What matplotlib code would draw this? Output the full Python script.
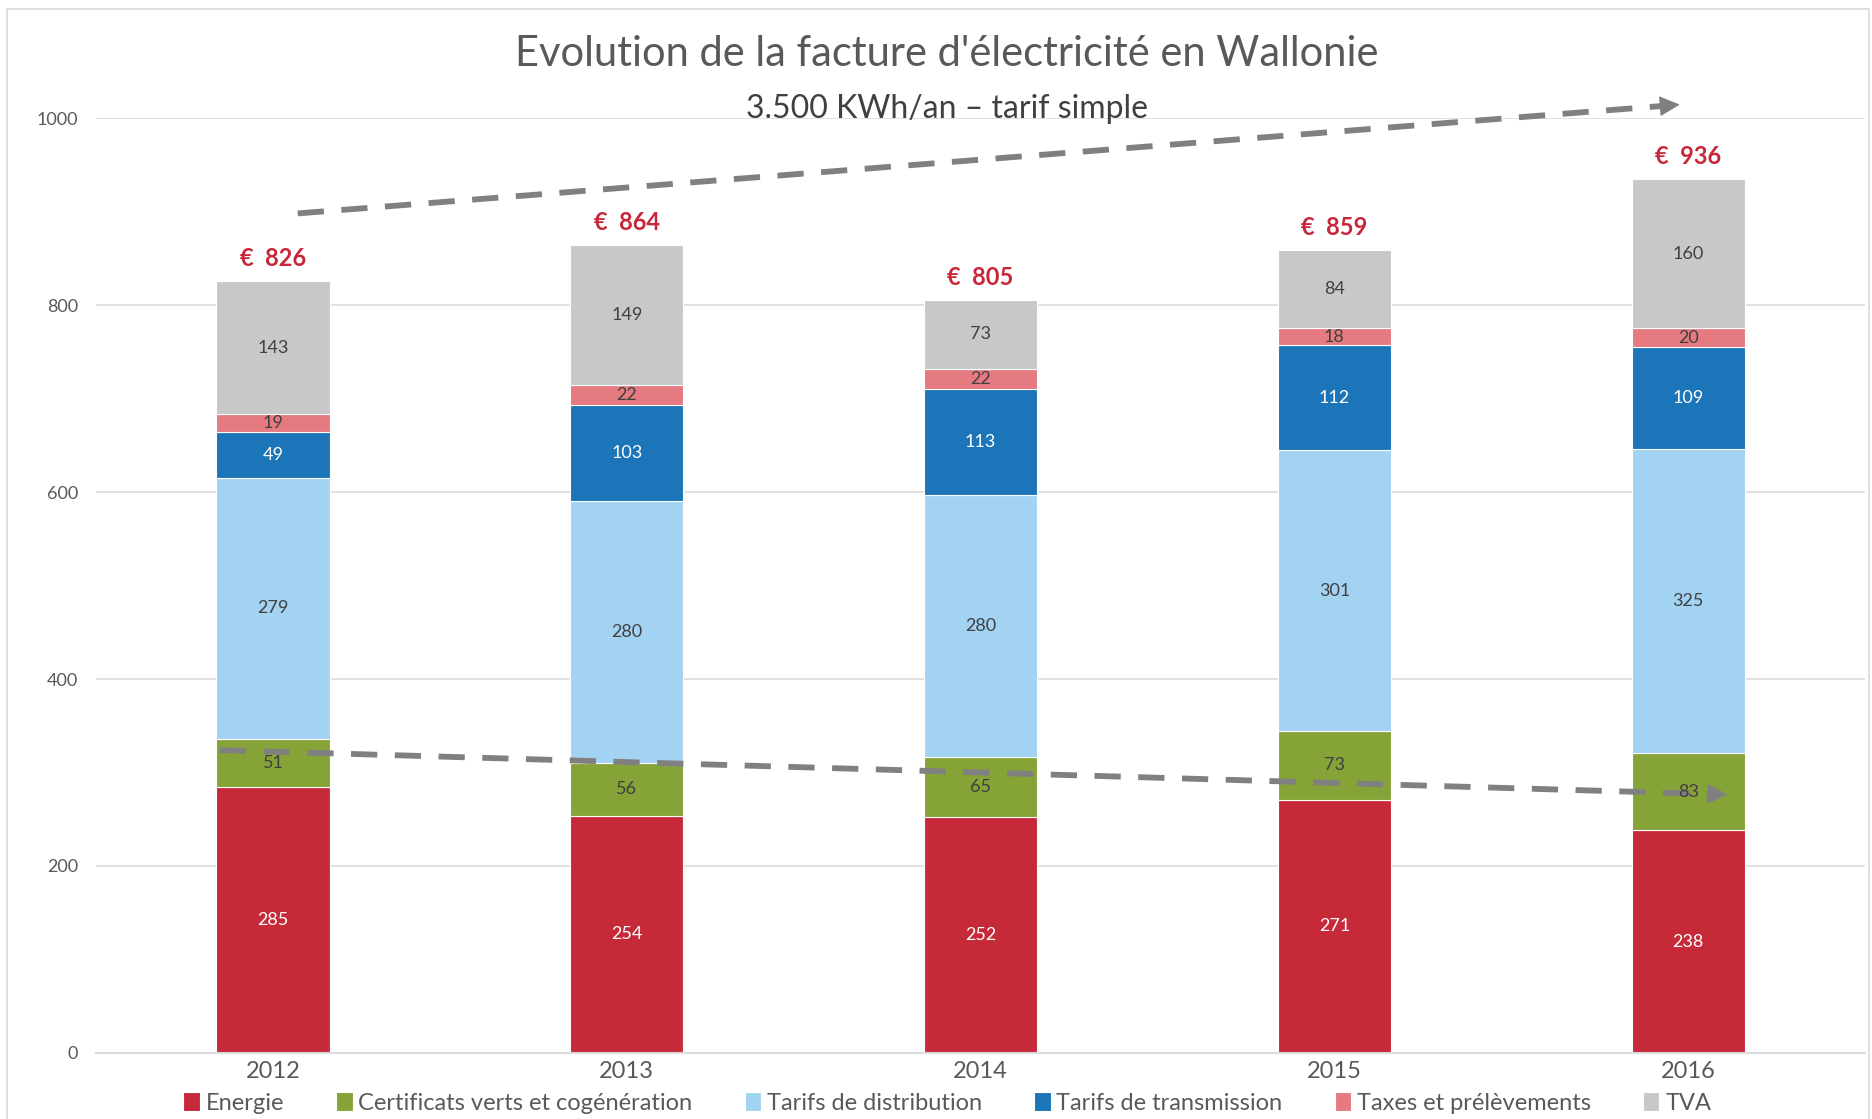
import matplotlib
matplotlib.use("Agg")
import matplotlib.pyplot as plt
import matplotlib.patches as mpatches
import numpy as np

plt.rcParams['font.family'] = ['Lato', 'DejaVu Sans']

# data
years = ['2012', '2013', '2014', '2015', '2016']
series = ['Energie', 'Certificats verts et cogénération', 'Tarifs de distribution',
          'Tarifs de transmission', 'Taxes et prélèvements', 'TVA']
energie = [285, 254, 252, 271, 238]
certificats = [51, 56, 65, 73, 83]
distribution = [279, 280, 280, 301, 325]
transmission = [49, 103, 113, 112, 109]
taxes = [19, 22, 22, 18, 20]
tva = [143, 149, 73, 84, 160]
totals = [826, 864, 805, 859, 936]

# trend arrows (data coords: x index, y value)
trend_up = [(0.07, 898), (3.93, 1013)]
trend_down = [(-0.15, 324), (4.06, 277)]

colors = ['#c62a38', '#86a337', '#a3d3f2', '#1b75b8', '#e57b81', '#c8c8c8']
label_colors = ['white', '#404040', '#404040', 'white', '#404040', '#404040']

fig = plt.figure(figsize=(18.72, 11.19), dpi=100)
ax = fig.add_axes([0.0513, 0.059, 0.945, 0.8355])

x = np.arange(len(years))
width = 0.32
bottom = np.zeros(len(years))
handles = []
for vals, col, lc, name in zip([energie, certificats, distribution, transmission, taxes, tva],
                               colors, label_colors, series):
    vals = np.array(vals)
    b = ax.bar(x, vals, width, bottom=bottom, color=col, edgecolor='white', linewidth=0.8,
               label=name, zorder=2)
    for xi, v, bt in zip(x, vals, bottom):
        ax.text(xi, bt + v / 2, str(v), ha='center', va='center', fontsize=13,
                color=lc, zorder=5)
    bottom = bottom + vals
    handles.append(b)

for xi, t, top in zip(x, totals, bottom):
    ax.text(xi, top + 12, '€  ' + str(t), ha='center', va='bottom', fontsize=17,
            fontweight='bold', color='#c8273a', zorder=5)

# dashed trend arrows
for (x0, y0), (x1, y1) in [trend_up, trend_down]:
    ax.plot([x0, x1], [y0, y1], color='#808080', lw=4.2, ls=(0, (4.5, 3)),
            clip_on=False, zorder=4, solid_capstyle='butt', dash_capstyle='butt')
    dx, dy = x1 - x0, y1 - y0
    ax.annotate('', xy=(x1 + dx * 0.014, y1 + dy * 0.014), xytext=(x1 - dx * 0.002, y1 - dy * 0.002),
                arrowprops=dict(arrowstyle='-|>', color='#808080', lw=1, mutation_scale=32),
                annotation_clip=False, zorder=4)

ax.set_xlim(-0.5, 4.5)
ax.set_ylim(0, 1000)
ax.set_yticks(range(0, 1001, 200))
ax.set_xticks(x)
ax.set_xticklabels(years, fontsize=17, color='#595959')
ax.tick_params(axis='y', labelsize=13, colors='#595959', length=0, pad=13)
ax.tick_params(axis='x', length=0, pad=6)
ax.grid(axis='y', color='#dcdcdc', lw=1.2, zorder=0)
ax.set_axisbelow(True)
for s in ['top', 'right', 'left']:
    ax.spines[s].set_visible(False)
ax.spines['bottom'].set_color('#dcdcdc')
ax.spines['bottom'].set_linewidth(1.5)

fig.text(0.506, 0.952, "Evolution de la facture d'électricité en Wallonie", ha='center', va='center',
         fontsize=30, color='#595959')
fig.text(0.506, 0.903, '3.500 KWh/an – tarif simple', ha='center', va='center',
         fontsize=23, color='#404040')

fig.legend(handles=handles, labels=series, loc='center', bbox_to_anchor=(0.506, 0.0145), ncol=6,
           frameon=False, fontsize=17, handlelength=0.7, handleheight=0.9, handletextpad=0.25,
           columnspacing=2.2, labelcolor='#595959', borderpad=0)

# outer frame
fig.patches.append(mpatches.Rectangle((0.0035, -0.02), 0.995, 1.012, transform=fig.transFigure,
                                      fill=False, edgecolor='#d9d9d9', lw=1.2))

fig.savefig('out.png', dpi=100)
